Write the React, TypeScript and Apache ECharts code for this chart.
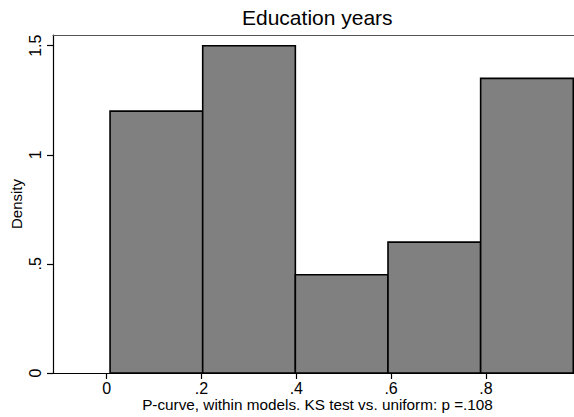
import React, { useEffect, useRef } from "react";
import * as echarts from "echarts";

// Histogram bins of p-values (edges) and their densities
const binEdges = [0.007, 0.2025, 0.398, 0.5935, 0.789, 0.9845];
const densities = [1.2, 1.5, 0.45, 0.6, 1.35];

const xTickValues = [0, 0.2, 0.4, 0.6, 0.8];
const xTickLabels = ["0", ".2", ".4", ".6", ".8"];
const yTickValues = [0, 0.5, 1, 1.5];
const yTickLabels = ["0", ".5", "1", "1.5"];

const titleText = "Education years";
const xTitle = "P-curve, within models. KS test vs. uniform: p =.108";
const yTitle = "Density";

const FONT = "'Liberation Sans', Arial, Helvetica, sans-serif";

export default function App() {
  const ref = useRef<HTMLDivElement>(null);

  useEffect(() => {
    if (!ref.current) return;
    const chart = echarts.init(ref.current, undefined, { renderer: "svg" });

    const bins = densities.map((d, i) => [binEdges[i], binEdges[i + 1], d]);
    const labelFor = (vals: number[], labels: string[]) => (v: number) => {
      const i = vals.findIndex((t) => Math.abs(t - v) < 1e-9);
      return i >= 0 ? labels[i] : "";
    };

    chart.setOption({
      animation: false,
      backgroundColor: "#ffffff",
      textStyle: { fontFamily: FONT, color: "#000" },
      title: {
        text: titleText,
        left: 237,
        top: 2,
        textStyle: { fontFamily: FONT, fontSize: 21, fontWeight: "normal", color: "#000" },
      },
      grid: { left: 53, top: 35, right: 0, bottom: 44, containLabel: false, outerBoundsMode: "none" },
      xAxis: [
        {
          type: "value",
          min: -0.1134,
          max: 0.986,
          splitLine: { show: false },
          axisLine: { show: true, onZero: false, lineStyle: { color: "#000", width: 1.2 } },
          axisTick: { show: true, length: 6, customValues: xTickValues, lineStyle: { color: "#000", width: 1.2 } },
          axisLabel: {
            customValues: xTickValues,
            formatter: labelFor(xTickValues, xTickLabels),
            fontFamily: FONT,
            fontSize: 16,
            lineHeight: 15,
            color: "#000",
            margin: 8,
          },
          name: xTitle,
          nameLocation: "middle",
          nameGap: 24,
          nameMoveOverlap: false,
          nameTextStyle: { fontFamily: FONT, fontSize: 15.3, lineHeight: 14, color: "#000", padding: [0, 0, 0, 8] },
        },
        {
          type: "value",
          position: "top",
          min: -0.1134,
          max: 0.986,
          splitLine: { show: false },
          axisLine: { show: true, onZero: false, lineStyle: { color: "#555", width: 1.2 } },
          axisTick: { show: false },
          axisLabel: { show: false },
        },
      ],
      yAxis: {
        type: "value",
        min: 0,
        max: 1.549,
        splitLine: { show: false },
        axisLine: { show: true, onZero: false, lineStyle: { color: "#000", width: 1.2 } },
        axisTick: { show: true, length: 6, customValues: yTickValues, lineStyle: { color: "#000", width: 1.2 } },
        axisLabel: {
          customValues: yTickValues,
          formatter: labelFor(yTickValues, yTickLabels),
          rotate: 90,
          align: "center",
          verticalAlign: "bottom",
          fontFamily: FONT,
          fontSize: 16,
          color: "#000",
          margin: 10,
        },
        name: yTitle,
        nameLocation: "middle",
        nameGap: 29,
        nameRotate: 90,
        nameMoveOverlap: false,
        nameTextStyle: { fontFamily: FONT, fontSize: 15, color: "#000" },
      },
      series: [
        {
          type: "custom",
          xAxisIndex: 0,
          yAxisIndex: 0,
          encode: { x: [0, 1], y: 2 },
          data: bins,
          renderItem: (_params: any, api: any) => {
            const lo = api.value(0);
            const hi = api.value(1);
            const d = api.value(2);
            const p0 = api.coord([lo, 0]);
            const p1 = api.coord([hi, d]);
            return {
              type: "rect",
              shape: { x: p0[0], y: p1[1], width: p1[0] - p0[0], height: p0[1] - p1[1] },
              style: { fill: "#808080", stroke: "#000", lineWidth: 1.6 },
            };
          },
        },
      ],
    });

    return () => chart.dispose();
  }, []);

  return (
    <div
      ref={ref}
      style={{ position: "fixed", left: 0, top: 0, width: 574, height: 417 }}
    />
  );
}
